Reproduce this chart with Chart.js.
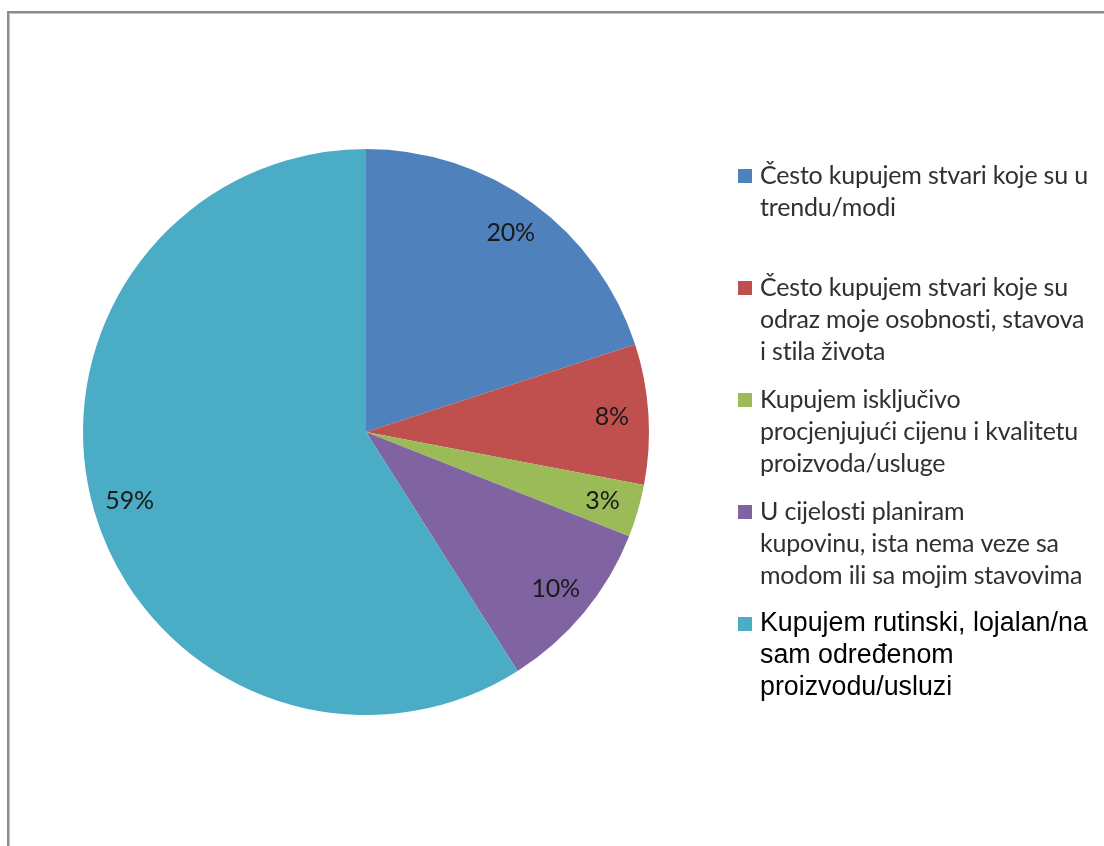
<!DOCTYPE html>
<html>
<head>
<meta charset="utf-8">
<title>Kupovno ponašanje</title>
<script src="https://cdn.jsdelivr.net/npm/chart.js@4.4.0/dist/chart.umd.min.js"></script>
<style>
  html, body { margin: 0; padding: 0; background: #fff; overflow: hidden; }
  #okvir {
    position: absolute; left: 7px; top: 11px; width: 1200px; height: 900px;
    border-left: 2px solid #8c8c8c; border-top: 2px solid #8c8c8c;
    box-shadow: inset 1px 1px 0 #c4c4c4;
  }
  #myChart { position: absolute; left: 0; top: 0; }
</style>
</head>
<body>
<div id="okvir"></div>
<canvas id="myChart" width="1104" height="846"></canvas>
<script>
const kategorije = [
  ["Često kupujem stvari koje su u", "trendu/modi"],
  ["Često kupujem stvari koje su", "odraz moje osobnosti, stavova", "i stila života"],
  ["Kupujem isključivo", "procjenjujući cijenu i kvalitetu", "proizvoda/usluge"],
  ["U cijelosti planiram", "kupovinu, ista nema veze sa", "modom ili sa mojim stavovima"],
  ["Kupujem rutinski, lojalan/na", "sam određenom", "proizvodu/usluzi"]
];
const postoci = [20, 8, 3, 10, 59];
const boje = ["#4F81BD", "#C0504D", "#9BBB59", "#8064A2", "#4BACC6"];

// oznake postotaka unutar kriški
const oznakePlugin = {
  id: "oznake",
  afterDatasetsDraw(chart) {
    const ctx = chart.ctx;
    const meta = chart.getDatasetMeta(0);
    ctx.save();
    ctx.font = "25px Lato";
    ctx.letterSpacing = "-0.2px";
    ctx.fillStyle = "#1a1a1a";
    ctx.textAlign = "center";
    ctx.textBaseline = "middle";
    meta.data.forEach(function (arc, i) {
      const p = arc.getProps(["x", "y", "startAngle", "endAngle", "outerRadius"], true);
      const mid = (p.startAngle + p.endAngle) / 2;
      const r = p.outerRadius * 0.87;
      ctx.fillText(postoci[i] + "%", p.x + Math.cos(mid) * r, p.y + Math.sin(mid) * r);
    });
    ctx.restore();
  }
};

// legenda desno, s prelamanjem redaka
const legendaPlugin = {
  id: "legenda",
  afterDraw(chart) {
    const ctx = chart.ctx;
    const x0 = 738, xt = 760, y0 = 176, razmak = 112, visina = 32;
    ctx.save();
    ctx.textBaseline = "middle";
    ctx.textAlign = "left";
    kategorije.forEach(function (linije, i) {
      const y = y0 + i * razmak;
      ctx.fillStyle = boje[i];
      ctx.fillRect(x0, y - 7, 14, 14);
      if (i === kategorije.length - 1) {
        ctx.font = "26.8px 'Liberation Sans'";
        ctx.letterSpacing = "0px";
        ctx.fillStyle = "#000";
      } else {
        ctx.font = "25px Lato";
        ctx.letterSpacing = "-0.2px";
        ctx.fillStyle = "#303030";
      }
      linije.forEach(function (t, j) {
        ctx.fillText(t, xt, y + j * visina);
      });
    });
    ctx.restore();
  }
};

document.addEventListener("DOMContentLoaded", function () {
  const ctx = document.getElementById("myChart").getContext("2d");
  new Chart(ctx, {
    type: "pie",
    data: {
      labels: kategorije.map(l => l.join(" ")),
      datasets: [{
        data: postoci,
        backgroundColor: boje,
        borderWidth: 0
      }]
    },
    options: {
      responsive: false,
      animation: false,
      layout: { padding: { left: 83, right: 455, top: 149, bottom: 131 } },
      plugins: {
        legend: { display: false },
        tooltip: { enabled: false }
      }
    },
    plugins: [oznakePlugin, legendaPlugin]
  });
});
</script>
</body>
</html>
